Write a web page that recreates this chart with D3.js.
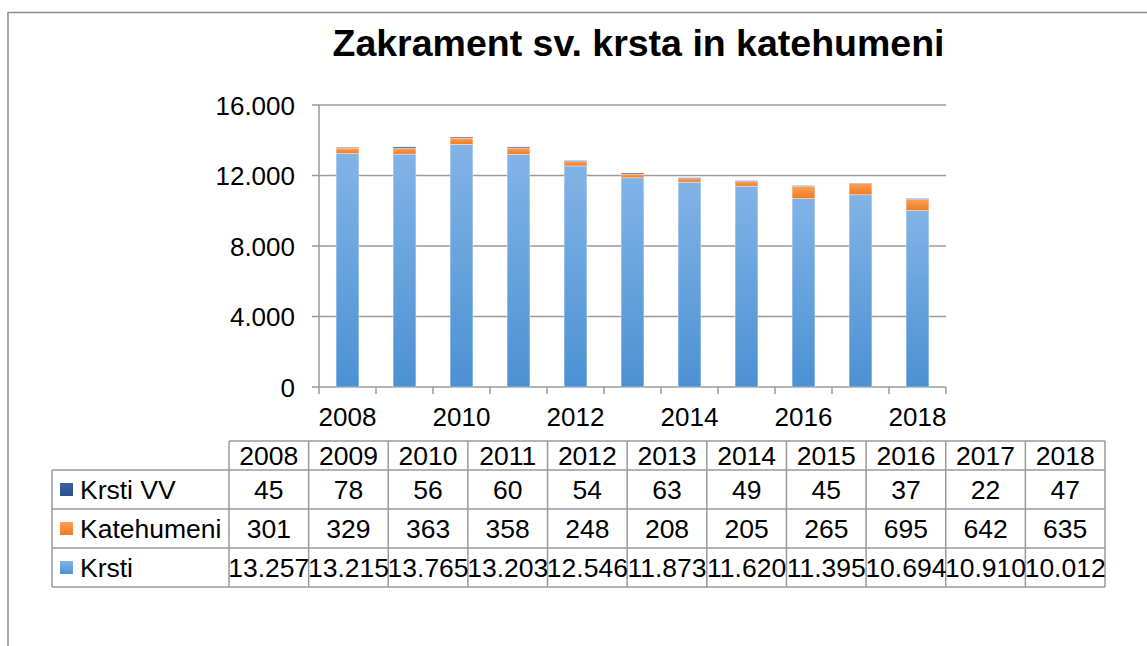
<!DOCTYPE html>
<html>
<head>
<meta charset="utf-8">
<script src="https://cdn.jsdelivr.net/npm/d3@7"></script>
<style>
  body { margin: 0; background: #fff; }
  svg { display: block; font-family: "Liberation Sans", Arial, sans-serif; }
</style>
</head>
<body>
<svg id="chart" width="1147" height="646"></svg>
<script>
// DATA
// ========================================================================
var years = [2008, 2009, 2010, 2011, 2012, 2013, 2014, 2015, 2016, 2017, 2018];
var krsti = [13257, 13215, 13765, 13203, 12546, 11873, 11620, 11395, 10694, 10910, 10012];
var katehumeni = [301, 329, 363, 358, 248, 208, 205, 265, 695, 642, 635];
var krstiVV = [45, 78, 56, 60, 54, 63, 49, 45, 37, 22, 47];
var yTicks = [0, 4000, 8000, 12000, 16000];
var xLabelYears = [2008, 2010, 2012, 2014, 2016, 2018];
var title = "Zakrament sv. krsta in katehumeni";
// table rows, top to bottom
var seriesNames = ["Krsti VV", "Katehumeni", "Krsti"];
// ========================================================================

var sl = d3.formatLocale({decimal: ",", thousands: ".", grouping: [3], currency: ["", " €"]});
var fmt = sl.format(",");

var svg = d3.select("#chart");
var GRID = "#9a9a9a";
var AXIS_FONT = "26px";
var TABLE_FONT = "26.5px";

// gradients
var defs = svg.append("defs");
function vGrad(id, top, bottom) {
  var g = defs.append("linearGradient").attr("id", id)
    .attr("x1", 0).attr("y1", 0).attr("x2", 0).attr("y2", 1);
  g.append("stop").attr("offset", "0%").attr("stop-color", top);
  g.append("stop").attr("offset", "100%").attr("stop-color", bottom);
}
vGrad("gKrsti", "#82b3e7", "#4c91d3");
vGrad("gKat", "#ff9f57", "#ef7b22");
vGrad("gVV", "#3a62a8", "#2a4f91");
var fills = {"Krsti": "url(#gKrsti)", "Katehumeni": "url(#gKat)", "Krsti VV": "url(#gVV)"};

// outer frame
svg.append("path")
  .attr("d", "M8,646 L8,12.5 L1147,12.5")
  .attr("fill", "none").attr("stroke", "#8c8c8c").attr("stroke-width", 1.5);

// title
svg.append("text")
  .attr("x", 638.5).attr("y", 56)
  .attr("text-anchor", "middle")
  .style("font-weight", "bold").style("font-size", "37.5px")
  .text(title);

// scales
var x = d3.scaleBand().domain(years).range([319, 946]).paddingInner(0.6).paddingOuter(0.3);
var y = d3.scaleLinear().domain([0, 16000]).range([387, 105]);

// gridlines
svg.append("g").selectAll("line").data(yTicks).enter().append("line")
  .attr("x1", 312).attr("x2", 946)
  .attr("y1", function(d) { return y(d); }).attr("y2", function(d) { return y(d); })
  .attr("stroke", GRID).attr("stroke-width", 1.5);

// y axis line
svg.append("line").attr("x1", 319).attr("x2", 319).attr("y1", y(16000)).attr("y2", y(0))
  .attr("stroke", GRID).attr("stroke-width", 1.5);

// y labels
svg.append("g").selectAll("text").data(yTicks).enter().append("text")
  .attr("x", 295).attr("y", function(d) { return y(d) + 9.5; })
  .attr("text-anchor", "end").style("font-size", AXIS_FONT)
  .text(function(d) { return fmt(d); });

// x ticks at category boundaries
var step = x.step();
var x0 = x.range()[0];
svg.append("g").selectAll("line").data(d3.range(years.length + 1)).enter().append("line")
  .attr("x1", function(i) { return x0 + i * step; }).attr("x2", function(i) { return x0 + i * step; })
  .attr("y1", y(0)).attr("y2", y(0) + 7)
  .attr("stroke", GRID).attr("stroke-width", 1.5);

svg.append("g").selectAll("text").data(xLabelYears).enter().append("text")
  .attr("x", function(d) { return x(d) + x.bandwidth() / 2; })
  .attr("y", 426)
  .attr("text-anchor", "middle").style("font-size", AXIS_FONT)
  .text(function(d) { return d; });

// stacked bars
var rows = years.map(function(yr, i) {
  return {year: yr, "Krsti": krsti[i], "Katehumeni": katehumeni[i], "Krsti VV": krstiVV[i]};
});
var stack = d3.stack().keys(["Krsti", "Katehumeni", "Krsti VV"])(rows);

svg.append("g").selectAll("g").data(stack).enter().append("g")
  .attr("fill", function(s) { return fills[s.key]; })
  .selectAll("rect").data(function(s) { return s; }).enter().append("rect")
    .attr("x", function(d) { return x(d.data.year); })
    .attr("width", x.bandwidth())
    .attr("y", function(d) { return y(d[1]); })
    .attr("height", function(d) { return y(d[0]) - y(d[1]); })
    .attr("stroke", "rgba(255,255,255,0.45)").attr("stroke-width", 0.8);

// DATA TABLE
// ========================================================================
var tLeft = 52, tCol0 = 229, tRight = 1105;
var colW = (tRight - tCol0) / years.length;
var rowTops = [441, 470, 509, 548, 587];
var values = {"Krsti VV": krstiVV, "Katehumeni": katehumeni, "Krsti": krsti};

var tbl = svg.append("g");
function hline(x1, x2, yy) {
  tbl.append("line").attr("x1", x1).attr("x2", x2).attr("y1", yy).attr("y2", yy)
    .attr("stroke", GRID).attr("stroke-width", 1.5);
}
function vline(xx, y1, y2) {
  tbl.append("line").attr("x1", xx).attr("x2", xx).attr("y1", y1).attr("y2", y2)
    .attr("stroke", GRID).attr("stroke-width", 1.5);
}
hline(tCol0, tRight, rowTops[0]);
hline(tLeft, tRight, rowTops[1]);
hline(tLeft, tRight, rowTops[2]);
hline(tLeft, tRight, rowTops[3]);
hline(tLeft, tRight, rowTops[4]);
vline(tLeft, rowTops[1], rowTops[4]);
d3.range(years.length + 1).forEach(function(i) {
  vline(tCol0 + i * colW, rowTops[0], rowTops[4]);
});

// header
tbl.selectAll("text.hdr").data(years).enter().append("text").attr("class", "hdr")
  .attr("x", function(d, i) { return tCol0 + (i + 0.5) * colW; })
  .attr("y", (rowTops[0] + rowTops[1]) / 2 + 9.5)
  .attr("text-anchor", "middle").style("font-size", TABLE_FONT)
  .text(function(d) { return d; });

seriesNames.forEach(function(name, r) {
  var cy = (rowTops[r + 1] + rowTops[r + 2]) / 2;
  tbl.append("rect").attr("x", 60).attr("y", cy - 6.5).attr("width", 13).attr("height", 13)
    .attr("fill", fills[name]);
  tbl.append("text").attr("x", 80).attr("y", cy + 9.5)
    .style("font-size", TABLE_FONT).text(name);
  tbl.selectAll("text.v" + r).data(values[name]).enter().append("text").attr("class", "v" + r)
    .attr("x", function(d, i) { return tCol0 + (i + 0.5) * colW; })
    .attr("y", cy + 9.5)
    .attr("text-anchor", "middle").style("font-size", TABLE_FONT)
    .text(function(d) { return fmt(d); });
});
</script>
</body>
</html>
